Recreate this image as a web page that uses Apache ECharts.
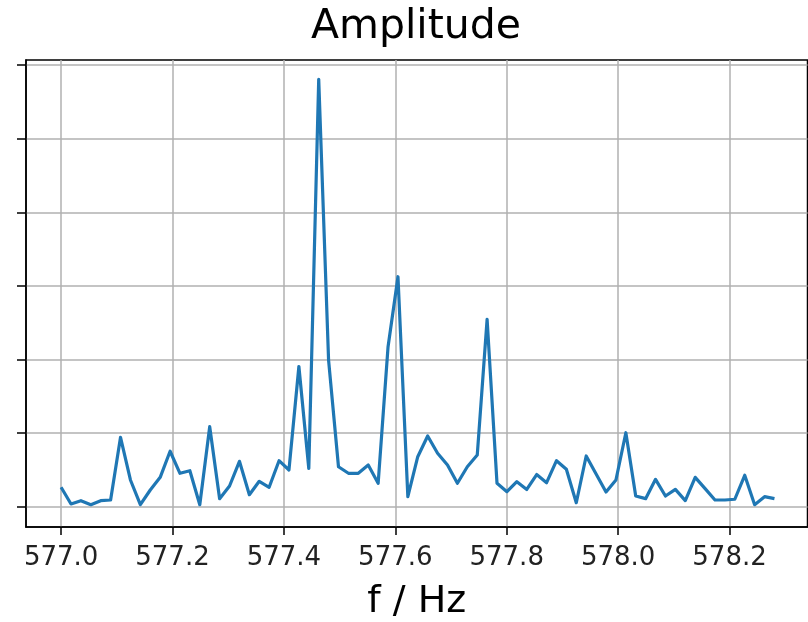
<!DOCTYPE html>
<html>
<head>
<meta charset="utf-8">
<script src="https://cdn.jsdelivr.net/npm/echarts@6/dist/echarts.min.js"></script>
<style>
html,body{margin:0;padding:0;background:#fff;}
#chart{width:808px;height:622px;}
</style>
</head>
<body>
<div id="chart"></div>
<script>
var frequencies = [
577.0000,577.0178,577.0356,577.0534,577.0711,577.0889,577.1067,577.1245,577.1423,577.1601,
577.1779,577.1957,577.2134,577.2312,577.2490,577.2668,577.2846,577.3024,577.3202,577.3380,
577.3557,577.3735,577.3913,577.4091,577.4269,577.4447,577.4625,577.4802,577.4980,577.5158,
577.5336,577.5514,577.5692,577.5870,577.6048,577.6225,577.6403,577.6581,577.6759,577.6937,
577.7115,577.7293,577.7471,577.7648,577.7826,577.8004,577.8182,577.8360,577.8538,577.8716,
577.8894,577.9071,577.9249,577.9427,577.9605,577.9783,577.9961,578.0139,578.0316,578.0494,
578.0672,578.0850,578.1028,578.1206,578.1384,578.1562,578.1739,578.1917,578.2095,578.2273,
578.2451,578.2629,578.2807
];
var amplitudes = [
0.264,0.037,0.082,0.027,0.082,0.091,0.943,0.363,0.027,0.227,
0.399,0.753,0.454,0.489,0.027,1.087,0.109,0.281,0.617,0.163,
0.345,0.264,0.625,0.499,1.905,0.519,5.807,1.993,0.543,0.454,
0.454,0.567,0.318,2.174,3.125,0.136,0.679,0.961,0.726,0.567,
0.318,0.543,0.702,2.546,0.318,0.204,0.340,0.234,0.437,0.326,
0.625,0.508,0.054,0.689,0.444,0.200,0.363,1.005,0.145,0.109,
0.372,0.145,0.236,0.082,0.399,0.245,0.091,0.091,0.101,0.427,
0.027,0.136,0.109
];
var xTicks = [577.0,577.2,577.4,577.6,577.8,578.0,578.2];
var yTicks = [0,1,2,3,4,5,6];

var data = frequencies.map(function(f,i){return [f, amplitudes[i]];});
var font = 'DejaVu Sans';
var chart = echarts.init(document.getElementById('chart'), null, {renderer:'canvas'});
chart.setOption({
  animation:false,
  backgroundColor:'#fff',
  title:{
    text:'Amplitude', left:'416', textAlign:'center', top:7, padding:0,
    textStyle:{fontFamily:font, fontSize:41, fontWeight:'normal', color:'#000'}
  },
  grid:{left:26, right:0.5, top:60, bottom:95, show:true, borderColor:'#000', borderWidth:1.5, backgroundColor:'transparent', outerBoundsMode:'none', containLabel:false},
  xAxis:{
    type:'value', min:576.937, max:578.34,
    name:'f / Hz', nameLocation:'middle', nameGap:56,
    nameTextStyle:{fontFamily:font, fontSize:38, color:'#000'},
    axisLine:{show:true, onZero:false, lineStyle:{color:'#000', width:1.5}},
    axisTick:{show:true, length:8, inside:false, customValues:xTicks, lineStyle:{color:'#000', width:1.5}},
    axisLabel:{show:true, customValues:xTicks, margin:18, fontFamily:font, fontSize:26, color:'#222',
      formatter:function(v){return Number(v).toFixed(1);}},
    splitLine:{show:true, lineStyle:{color:'#b0b0b0', width:1.5}}
  },
  yAxis:{
    type:'value', min:-0.276, max:6.07,
    axisLine:{show:true, onZero:false, lineStyle:{color:'#000', width:1.5}},
    axisTick:{show:true, length:9, inside:false, customValues:yTicks, lineStyle:{color:'#000', width:1.5}},
    axisLabel:{show:false, customValues:yTicks},
    splitLine:{show:true, lineStyle:{color:'#b0b0b0', width:1.5}}
  },
  series:[{
    type:'line', data:data, showSymbol:false, symbol:'none',
    lineStyle:{color:'#1f77b4', width:3.2, join:'round'},
    itemStyle:{color:'#1f77b4'}
  }]
});
</script>
</body>
</html>
